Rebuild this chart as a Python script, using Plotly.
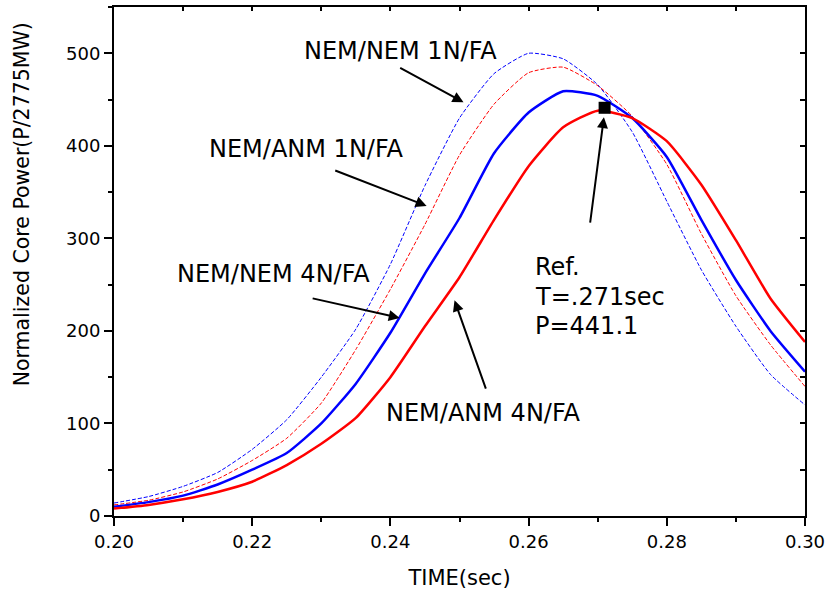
import plotly.graph_objects as go

# ---- data ----
time_s = [0.200, 0.205, 0.210, 0.215, 0.220, 0.225, 0.230, 0.235, 0.240, 0.245,
          0.250, 0.255, 0.260, 0.265, 0.270, 0.275, 0.280, 0.285, 0.290, 0.295, 0.300]

nem_nem_1n = [14, 21, 32, 47, 72, 104, 150, 202, 272, 357,
              430, 478, 500, 494, 466, 415, 340, 266, 205, 153, 120]
nem_anm_1n = [12, 17, 26, 40, 60, 84, 122, 180, 245, 315,
              390, 445, 479, 485, 465, 432, 380, 305, 238, 185, 140]
nem_nem_4n = [10, 15, 22, 34, 50, 68, 100, 143, 198, 262,
              322, 392, 436, 459, 454, 430, 388, 320, 255, 200, 156]
nem_anm_4n = [8, 12, 18, 26, 37, 55, 78, 106, 150, 205,
              258, 320, 378, 420, 438, 430, 405, 358, 298, 235, 188]

ref_t = [0.271]
ref_p = [441.1]

x_ticks = [0.20, 0.22, 0.24, 0.26, 0.28, 0.30]
y_ticks = [0, 100, 200, 300, 400, 500]

FONT = "DejaVu Sans"

fig = go.Figure()

fig.add_trace(go.Scatter(x=time_s, y=nem_nem_1n, mode="lines", name="NEM/NEM 1N/FA",
                         line=dict(color="#0000FF", width=1, dash="4px,2px", shape="spline", smoothing=0.5)))
fig.add_trace(go.Scatter(x=time_s, y=nem_anm_1n, mode="lines", name="NEM/ANM 1N/FA",
                         line=dict(color="#FF0000", width=1, dash="4px,2px", shape="spline", smoothing=0.5)))
fig.add_trace(go.Scatter(x=time_s, y=nem_nem_4n, mode="lines", name="NEM/NEM 4N/FA",
                         line=dict(color="#0000FF", width=2.5, shape="spline", smoothing=0.5)))
fig.add_trace(go.Scatter(x=time_s, y=nem_anm_4n, mode="lines", name="NEM/ANM 4N/FA",
                         line=dict(color="#FF0000", width=2.5, shape="spline", smoothing=0.5)))
fig.add_trace(go.Scatter(x=ref_t, y=ref_p, mode="markers", name="Ref.",
                         marker=dict(symbol="square", size=12, color="black")))
# dummy trace for mirrored (inside-tick) top/right axes
fig.add_trace(go.Scatter(x=[None], y=[None], xaxis="x2", yaxis="y2", showlegend=False,
                         hoverinfo="skip"))

fig.update_layout(
    width=832, height=598,
    margin=dict(l=114, r=24, t=7, b=82),
    paper_bgcolor="white", plot_bgcolor="white",
    showlegend=False,
    font=dict(family=FONT, color="black"),
    xaxis=dict(range=[0.20, 0.30], tickvals=x_ticks, ticktext=[f"{v:.2f}" for v in x_ticks],
               ticks="outside", ticklen=8, tickwidth=2, tickcolor="black",
               minor=dict(dtick=0.01, ticks="outside", ticklen=4, tickwidth=2, tickcolor="black"),
               showline=True, linecolor="black", linewidth=2, showgrid=False, zeroline=False,
               tickfont=dict(size=18, family=FONT),
               title=dict(text="TIME(sec)", font=dict(size=21, family=FONT), standoff=20)),
    yaxis=dict(range=[0, 550], tickvals=y_ticks,
               ticks="outside", ticklen=8, tickwidth=2, tickcolor="black",
               minor=dict(dtick=50, ticks="outside", ticklen=4, tickwidth=2, tickcolor="black"),
               showline=True, linecolor="black", linewidth=2, showgrid=False, zeroline=False,
               tickfont=dict(size=18, family=FONT)),
    xaxis2=dict(range=[0.20, 0.30], overlaying="x", side="top", dtick=0.01, tick0=0.2,
                ticks="inside", ticklen=4, tickwidth=1.5, tickcolor="black",
                showticklabels=False, showline=True, linecolor="black", linewidth=2,
                showgrid=False, zeroline=False),
    yaxis2=dict(range=[0, 550], overlaying="y", side="right", dtick=50, tick0=0,
                ticks="inside", ticklen=5, tickwidth=1.5, tickcolor="black",
                showticklabels=False, showline=True, linecolor="black", linewidth=2,
                showgrid=False, zeroline=False),
)

# y-axis title (placed higher than the plot centre, as in the reference)
fig.add_annotation(text="Normalized Core Power(P/2775MW)", xref="paper", yref="paper",
                   x=-0.1326, y=0.613, textangle=-90, showarrow=False,
                   xanchor="center", yanchor="middle",
                   font=dict(size=20.5, family=FONT, color="black"))

ann_font = dict(size=24, family=FONT, color="black")

labels = [
    ("NEM/NEM 1N/FA", 0.24150, 503),
    ("NEM/ANM 1N/FA", 0.22781, 397),
    ("NEM/NEM 4N/FA", 0.22305, 261),
    ("NEM/ANM 4N/FA", 0.25346, 111),
]
for txt, xx, yy in labels:
    fig.add_annotation(x=xx, y=yy, text=txt, showarrow=False, font=ann_font,
                       xanchor="center", yanchor="middle")

ref_lines = [("Ref.", 269), ("T=.271sec", 237), ("P=441.1", 205)]
for txt, yy in ref_lines:
    fig.add_annotation(x=0.26066, y=yy, text=txt, showarrow=False, font=ann_font,
                       xanchor="left", yanchor="middle")

arrows = [
    # (tip_x, tip_y, tail_x, tail_y)
    (0.25058, 447, 0.2412, 485),
    (0.24524, 335, 0.2318, 374),
    (0.24135, 214, 0.22853, 235.5),
    (0.24928, 233, 0.25389, 136),
    (0.2709, 431, 0.26888, 315.5),
]
for tx, ty, sx, sy in arrows:
    fig.add_annotation(x=tx, y=ty, ax=sx, ay=sy, axref="x", ayref="y",
                       text="", showarrow=True, arrowhead=2, arrowsize=1.1,
                       arrowwidth=2, arrowcolor="black")

fig.write_html("out.html", config={"displayModeBar": False},
               post_script="document.body.style.margin='0';document.body.style.overflow='hidden';")
